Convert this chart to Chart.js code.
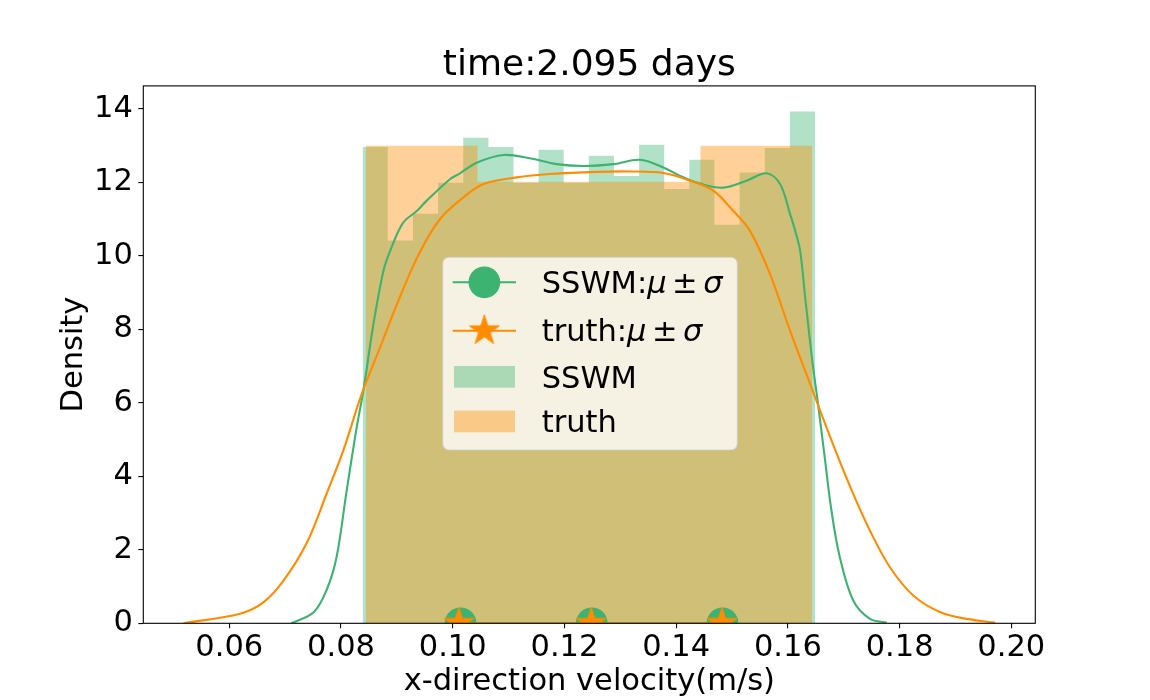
<!DOCTYPE html>
<html><head><meta charset="utf-8">
<script src="https://cdn.jsdelivr.net/npm/chart.js@4.4.1/dist/chart.umd.min.js"></script>
<style>html,body{margin:0;padding:0;background:#fff;overflow:hidden;} canvas{display:block;}</style>
</head><body>
<canvas id="c" width="1150" height="700" style="width:1150px;height:700px"></canvas>
<script>
// ---------------- data ----------------
const titleText = 'time:2.095 days';
const xLabel = 'x-direction velocity(m/s)';
const yLabel = 'Density';
const xTicks = [0.06, 0.08, 0.10, 0.12, 0.14, 0.16, 0.18, 0.20];
const xTickLabels = ['0.06', '0.08', '0.10', '0.12', '0.14', '0.16', '0.18', '0.20'];
const yTicks = [0, 2, 4, 6, 8, 10, 12, 14];
const yTickLabels = ['0', '2', '4', '6', '8', '10', '12', '14'];

const sswmBinEdges = [0.08388, 0.08838, 0.09288, 0.09738, 0.10188, 0.10638, 0.11087, 0.11537, 0.11987, 0.12437,
  0.12887, 0.13337, 0.13787, 0.14236, 0.14686, 0.15136, 0.15586, 0.16036, 0.16486];
const sswmDensity = [12.97, 10.42, 11.15, 11.99, 13.22, 12.97, 11.99, 12.89, 11.99, 12.73,
  12.18, 13.03, 11.82, 12.62, 10.85, 12.27, 12.94, 13.93];

const truthBinEdges = [0.08447, 0.08946, 0.09445, 0.09944, 0.10443, 0.10942, 0.11441, 0.11940, 0.12439,
  0.12939, 0.13438, 0.13937, 0.14436, 0.14935, 0.15434, 0.15933, 0.16432];
const truthDensity = [13.0, 13.0, 13.0, 13.0, 12.02, 12.02, 12.02, 12.02,
  12.02, 12.02, 12.02, 12.02, 13.0, 13.0, 13.0, 13.0];

const sswmKdeX = [0.0711, 0.0751, 0.0774, 0.0792, 0.0810, 0.0828, 0.0840, 0.0858, 0.0876, 0.0888, 0.0911,
  0.0936, 0.0953, 0.0995, 0.1013, 0.1043, 0.1091, 0.1138, 0.1186, 0.1234, 0.1288, 0.1335, 0.1377, 0.1407,
  0.1443, 0.1484, 0.1526, 0.1562, 0.1586, 0.1604, 0.1613, 0.1622, 0.1631, 0.1643, 0.1654, 0.1666, 0.1678,
  0.1693, 0.1717, 0.1747, 0.1777];
const sswmKdeY = [0.0, 0.3, 0.9, 1.8, 3.6, 5.33, 6.33, 8.14, 9.6, 10.14, 10.9,
  11.23, 11.5, 12.09, 12.25, 12.54, 12.75, 12.66, 12.5, 12.45, 12.5, 12.62, 12.41, 12.18,
  11.97, 11.86, 12.05, 12.25, 11.96, 11.14, 10.69, 10.14, 8.87, 7.24, 5.97, 4.52, 3.07,
  1.8, 0.62, 0.12, 0.02];

const truthKdeX = [0.0518, 0.0619, 0.0661, 0.0697, 0.0739, 0.0774, 0.0804, 0.0837, 0.0870, 0.0905, 0.0941,
  0.0977, 0.1013, 0.1055, 0.1115, 0.1174, 0.1258, 0.1319, 0.1377, 0.1425, 0.1467, 0.1502, 0.1532, 0.1568,
  0.1604, 0.1640, 0.1676, 0.1712, 0.1747, 0.1783, 0.1825, 0.1873, 0.1920, 0.1971];
const truthKdeY = [0.0, 0.26, 0.57, 1.16, 2.2, 3.52, 4.7, 6.24, 7.51, 8.87, 10.1,
  11.0, 11.52, 11.96, 12.14, 12.23, 12.29, 12.3, 12.26, 12.05, 11.77, 11.23, 10.69, 9.51,
  7.96, 6.51, 5.06, 3.70, 2.52, 1.52, 0.75, 0.30, 0.12, 0.02];

const sswmMuSigma = [0.1014, 0.1249, 0.1483];
const truthMuSigma = [0.1011, 0.1248, 0.1482];
const legendNames = ['SSWM', 'truth'];

// ---------------- styling ----------------
const GREEN = '#3cb371';
const ORANGE = '#ff8c00';
const FONT = "'DejaVu Sans', sans-serif";
Chart.defaults.font.family = FONT;
Chart.defaults.color = '#000';

function starPath(ctx, cx, cy, r) {
  ctx.beginPath();
  for (let k = 0; k < 10; k++) {
    const ang = -Math.PI / 2 + k * Math.PI / 5;
    const rr = (k % 2 === 0) ? r : r * 0.381966;
    const px = cx + rr * Math.cos(ang), py = cy + rr * Math.sin(ang);
    if (k === 0) ctx.moveTo(px, py); else ctx.lineTo(px, py);
  }
  ctx.closePath();
}
const starImg = document.createElement('canvas');
starImg.width = 36; starImg.height = 36;
(function () {
  const s = starImg.getContext('2d');
  starPath(s, 18, 18, 15.8);
  s.fillStyle = ORANGE; s.fill();
  s.strokeStyle = ORANGE; s.lineWidth = 1; s.stroke();
})();

function histPoints(edges, dens) {
  return edges.map((e, i) => ({ x: e, y: dens[Math.min(i, dens.length - 1)] }));
}
function zip(xs, ys) { return xs.map((x, i) => ({ x: x, y: ys[i] })); }

function roundRect(ctx, x, y, w, h, r) {
  ctx.beginPath();
  ctx.moveTo(x + r, y);
  ctx.lineTo(x + w - r, y); ctx.arcTo(x + w, y, x + w, y + r, r);
  ctx.lineTo(x + w, y + h - r); ctx.arcTo(x + w, y + h, x + w - r, y + h, r);
  ctx.lineTo(x + r, y + h); ctx.arcTo(x, y + h, x, y + h - r, r);
  ctx.lineTo(x, y + r); ctx.arcTo(x, y, x + r, y, r);
  ctx.closePath();
}

function drawMathLabel(ctx, name, x, baseline) {
  const size = 30.5;
  const parts = [
    { t: name + ':', it: false, gap: 0 },
    { t: 'μ', it: true, gap: 0 },
    { t: '±', it: false, gap: 5.5 },
    { t: 'σ', it: true, gap: 5.5 }
  ];
  let cx = x;
  ctx.textBaseline = 'alphabetic';
  ctx.textAlign = 'left';
  ctx.fillStyle = '#000';
  for (const p of parts) {
    cx += p.gap;
    ctx.font = (p.it ? 'italic ' : '') + size + 'px ' + FONT;
    ctx.fillText(p.t, cx, baseline);
    cx += ctx.measureText(p.t).width;
  }
}

const spinePlugin = {
  id: 'spines',
  afterDatasetsDraw(chart) {
    const { ctx, chartArea: a } = chart;
    ctx.save();
    ctx.strokeStyle = '#000';
    ctx.lineWidth = 1.1;
    ctx.strokeRect(a.left, a.top, a.right - a.left, a.bottom - a.top);
    ctx.restore();
  }
};

const legendPlugin = {
  id: 'mplLegend',
  afterDraw(chart) {
    const ctx = chart.ctx;
    ctx.save();
    roundRect(ctx, 442.7, 257.3, 294.6, 192.7, 6);
    ctx.fillStyle = 'rgba(255,255,255,0.8)';
    ctx.fill();
    ctx.strokeStyle = 'rgba(204,204,204,0.8)';
    ctx.lineWidth = 1.1;
    ctx.stroke();

    const hx0 = 452.7, hx1 = 516, hxc = (hx0 + hx1) / 2, tx = 541.7;
    // row 1: SSWM mu +- sigma
    ctx.strokeStyle = GREEN; ctx.lineWidth = 2.1;
    ctx.beginPath(); ctx.moveTo(hx0, 282.3); ctx.lineTo(hx1, 282.3); ctx.stroke();
    ctx.beginPath(); ctx.arc(hxc, 282.3, 15.3, 0, Math.PI * 2);
    ctx.fillStyle = GREEN; ctx.fill(); ctx.lineWidth = 1.1; ctx.stroke();
    drawMathLabel(ctx, legendNames[0], tx, 293.3);
    // row 2: truth mu +- sigma
    ctx.strokeStyle = ORANGE; ctx.lineWidth = 2.1;
    ctx.beginPath(); ctx.moveTo(hx0, 330.7); ctx.lineTo(hx1, 330.7); ctx.stroke();
    ctx.drawImage(starImg, hxc - 18, 330.7 - 18);
    drawMathLabel(ctx, legendNames[1], tx, 341.0);
    // row 3/4: histogram patches
    ctx.fillStyle = 'rgba(60,179,113,0.4)';
    ctx.fillRect(454, 366, 61, 21.7);
    ctx.fillStyle = 'rgba(255,140,0,0.4)';
    ctx.fillRect(454, 410.6, 61, 21.7);
    ctx.fillStyle = '#000';
    ctx.font = '30.5px ' + FONT;
    ctx.textBaseline = 'alphabetic';
    ctx.fillText(legendNames[0], tx, 387.7);
    ctx.fillText(legendNames[1], tx, 431.9);
    ctx.restore();
  }
};

new Chart(document.getElementById('c'), {
  type: 'line',
  data: {
    datasets: [
      { label: 'SSWM', data: histPoints(sswmBinEdges, sswmDensity), stepped: true, fill: 'origin',
        backgroundColor: 'rgba(60,179,113,0.4)', borderColor: 'rgba(0,0,0,0)', borderWidth: 0,
        pointRadius: 0, order: 10, clip: 0 },
      { label: 'truth', data: histPoints(truthBinEdges, truthDensity), stepped: true, fill: 'origin',
        backgroundColor: 'rgba(255,140,0,0.4)', borderColor: 'rgba(0,0,0,0)', borderWidth: 0,
        pointRadius: 0, order: 9, clip: 0 },
      { label: 'SSWM kde', data: zip(sswmKdeX, sswmKdeY), borderColor: GREEN, borderWidth: 2.1,
        pointRadius: 0, tension: 0.35, fill: false, order: 5, clip: 0 },
      { label: 'truth kde', data: zip(truthKdeX, truthKdeY), borderColor: ORANGE, borderWidth: 2.1,
        pointRadius: 0, tension: 0.35, fill: false, order: 4, clip: 0 },
      { label: 'SSWM:μ±σ', data: sswmMuSigma.map(v => ({ x: v, y: 0 })), borderColor: GREEN, borderWidth: 2.1,
        pointStyle: 'circle', pointRadius: 15.3, pointBorderWidth: 1.1, pointBackgroundColor: GREEN,
        pointBorderColor: GREEN, fill: false, order: 2, clip: 0 },
      { label: 'truth:μ±σ', data: truthMuSigma.map(v => ({ x: v, y: 0 })), borderColor: ORANGE, borderWidth: 2.1,
        pointStyle: starImg, pointRadius: 16, fill: false, order: 1, clip: 0 }
    ]
  },
  options: {
    responsive: false,
    animation: false,
    events: [],
    layout: { padding: { left: 0, right: 114.7, top: 0, bottom: 0 } },
    plugins: {
      legend: { display: false },
      tooltip: { enabled: false },
      title: {
        display: true, text: titleText, fullSize: false, color: '#000',
        font: { size: 36, family: FONT, weight: 'normal', lineHeight: 1.15 },
        padding: { top: 44.5, bottom: 0 }
      }
    },
    scales: {
      x: {
        type: 'linear', min: 0.044604, max: 0.204297,
        afterBuildTicks: s => { s.ticks = xTicks.map(v => ({ value: v })); },
        afterFit: s => { s.height = 76.7; },
        ticks: { callback: (v, i) => xTickLabels[i], font: { size: 30.5 }, padding: 1.2,
          maxRotation: 0, autoSkip: false, color: '#000' },
        grid: { display: true, drawOnChartArea: false, drawTicks: true, tickLength: 5, color: '#000', lineWidth: 1.1 },
        border: { display: false },
        title: { display: true, text: xLabel, color: '#000', font: { size: 30.5, lineHeight: 1.2 },
          padding: { top: 2.3, bottom: 0 } }
      },
      y: {
        type: 'linear', min: 0, max: 14.63,
        afterBuildTicks: s => { s.ticks = yTicks.map(v => ({ value: v })); },
        afterFit: s => { s.width = 143.3; },
        ticks: { callback: (v, i) => yTickLabels[i], font: { size: 30.5 }, padding: 5.5, color: '#000' },
        grid: { display: true, drawOnChartArea: false, drawTicks: true, tickLength: 5, color: '#000', lineWidth: 1.1 },
        border: { display: false },
        title: { display: true, text: yLabel, color: '#000', font: { size: 30.5, lineHeight: 1.2 },
          padding: { top: 56.1, bottom: 0 } }
      }
    }
  },
  plugins: [spinePlugin, legendPlugin]
});
</script>
</body></html>
